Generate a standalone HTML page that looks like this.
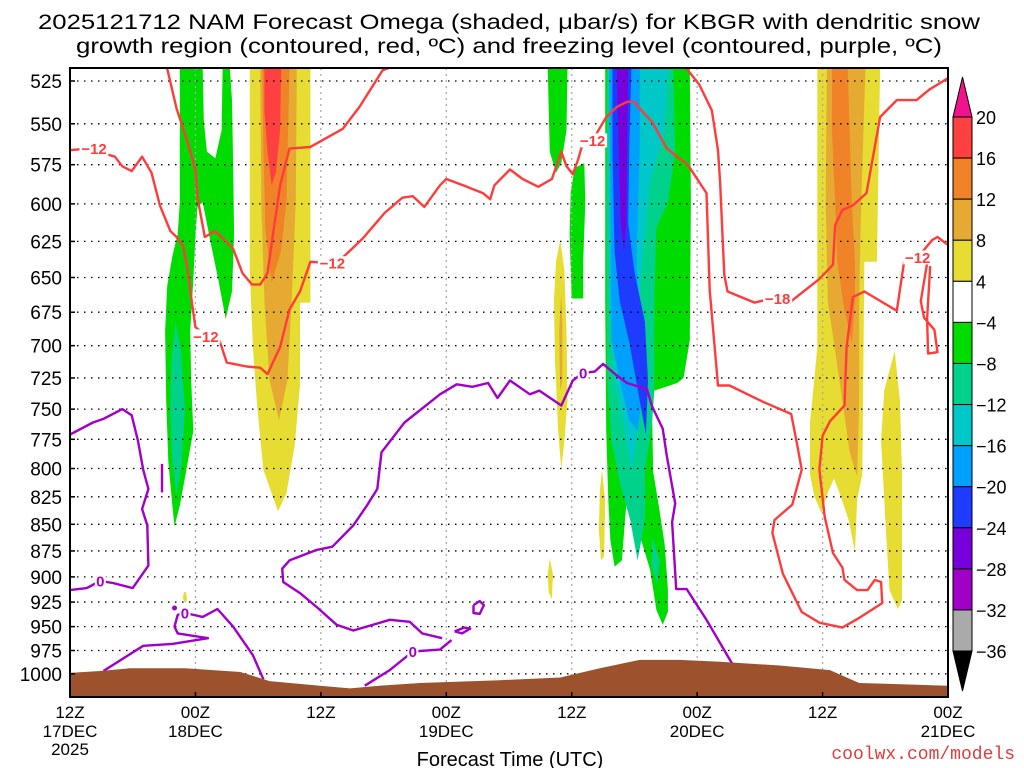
<!DOCTYPE html>
<html><head><meta charset="utf-8">
<style>
html,body{margin:0;padding:0;background:#fff;}
svg{display:block;font-family:"Liberation Sans",sans-serif;}
</style></head>
<body>
<svg id="chart" width="1024" height="768" viewBox="0 0 1024 768" xmlns="http://www.w3.org/2000/svg">
  <rect x="0" y="0" width="1024" height="768" fill="#fff"/>
  <text x="509" y="29" text-anchor="middle" font-size="21" textLength="942" lengthAdjust="spacingAndGlyphs">2025121712 NAM Forecast Omega (shaded, μbar/s) for KBGR with dendritic snow</text>
  <text x="509" y="53" text-anchor="middle" font-size="21" textLength="866" lengthAdjust="spacingAndGlyphs">growth region (contoured, red, ºC) and freezing level (contoured, purple, ºC)</text>
  <defs><clipPath id="plotclip"><rect x="70" y="68" width="878" height="629"/></clipPath></defs>
  <g id="shading" clip-path="url(#plotclip)"></g>
  <g id="grid"></g>
  <g id="contours" clip-path="url(#plotclip)"></g>
  <g id="terrain" clip-path="url(#plotclip)"></g>
  <g id="clabels"></g>
  <rect x="70" y="68" width="878" height="629" fill="none" stroke="#000" stroke-width="2"/>
  <g id="axes"></g>
  <g id="colorbar"></g>
  <text x="510" y="766" text-anchor="middle" font-size="20">Forecast Time (UTC)</text>
  <text x="1015" y="759" text-anchor="end" font-size="18" fill="#e03c3c" font-family="Liberation Mono, monospace">coolwx.com/models</text>
</svg>
<script>
// ---- axis data ----
const pressureTicks = [525,550,575,600,625,650,675,700,725,750,775,800,825,850,875,900,925,950,975,1000];
const timeTickHours = [0,12,24,36,48,60,72,84];
const timeTickLabels = ["12Z","00Z","12Z","00Z","12Z","00Z","12Z","00Z"];
const dateTickLabels = ["17DEC","18DEC","","19DEC","","20DEC","","21DEC"];
// ---- colorbar data ----
const cbarLevels = [20,16,12,8,4,-4,-8,-12,-16,-20,-24,-28,-32,-36];
const cbarColors = ["#ff4040","#f08228","#e6aa32","#e6dc32","#ffffff","#00dc00","#00d28c","#00c8c8","#00a0ff","#1e3cff","#7800dc","#a000c8","#aaaaaa"];
const cbarOverColor = "#f0148c", cbarUnderColor = "#000000";
const levelColor = {"16":"#ff4040","12":"#f08228","8":"#e6aa32","4":"#e6dc32","-4":"#00dc00","-8":"#00d28c","-12":"#00c8c8","-16":"#00a0ff","-20":"#1e3cff","-24":"#7800dc"};
// ---- shaded omega regions [hour, hPa] ----
const greenA = [[10.5,518],[10.5,599],[10.3,620],[9.8,635],[9.3,656],[9.1,689],[9.2,743],[9.4,794],[9.8,833],[10.0,852],[10.5,833],[11.1,803],[11.8,768],[11.6,727],[11.5,689],[11.8,652],[12.0,622],[12.2,602],[12.7,599],[13.4,624],[14.2,652],[14.9,680],[15.5,660],[15.7,620],[15.6,574],[15.5,536],[15.3,518],[14.6,518],[14.5,554],[13.9,571],[13.1,567],[12.8,548],[12.7,518]];
const tealA = [[10.1,682],[10.6,704],[11.0,751],[10.7,794],[10.2,824],[9.8,794],[9.6,751],[9.7,712]];
const yellowB = [[17.2,518],[23.0,518],[23.0,668],[22.0,668],[22.0,731],[21.5,780],[20.7,822],[19.9,838],[18.5,801],[17.9,747],[17.5,701],[17.2,646]];
const goldB = [[18.2,518],[21.7,518],[21.6,599],[21.2,667],[20.8,727],[20.0,759],[19.1,727],[18.6,667],[18.3,599]];
const orangeB = [[18.4,518],[21.0,518],[20.7,599],[20.2,631],[19.3,654],[18.7,618],[18.5,567]];
const redB = [[18.6,518],[20.2,518],[20.1,554],[19.7,580],[19.3,588],[18.9,567],[18.6,542]];
const yellowDot = [[10.9,915],[11.1,915],[11.2,923],[11.0,926],[10.8,921]];
const greenC = [[45.7,518],[47.6,518],[47.5,554],[47.0,574],[46.5,580],[45.9,567]];
const greenD = [[48.3,577],[49.2,574],[49.3,599],[49.1,639],[49.1,665],[48.0,665],[47.8,620],[47.9,592]];
const yellowE = [[46.9,624],[47.3,645],[47.5,689],[47.6,743],[47.3,776],[47.0,801],[46.7,767],[46.4,711],[46.3,667],[46.5,639]];
const goldE = [[47.0,660],[47.1,682],[47.1,727],[46.9,735],[46.8,689]];
const yellowF = [[50.9,801],[51.2,828],[51.1,880],[50.8,884],[50.6,855],[50.7,819]];
const yellowG = [[45.9,882],[46.2,898],[46.1,922],[45.8,915],[45.7,898]];
const greenH = [[51.2,518],[59.3,518],[59.4,599],[59.3,696],[58.7,725],[58.1,729],[55.9,735],[55.7,759],[55.8,803],[56.4,837],[56.9,869],[57.2,912],[57.2,935],[56.7,948],[56.1,933],[55.5,893],[54.5,860],[54.0,837],[53.4,812],[53.1,846],[52.8,884],[52.1,890],[51.7,865],[51.5,828],[51.3,768],[51.2,667]];
const tealH = [[51.4,518],[57.7,518],[57.9,567],[57.2,599],[56.1,616],[55.9,667],[55.9,727],[55.7,759],[55.0,803],[55.0,846],[54.3,884],[53.6,846],[52.6,812],[51.8,776],[51.4,727],[51.3,599]];
const tealH2 = [[55.7,862],[56.4,884],[56.2,907],[55.6,888]];
const cyanH = [[51.5,518],[57.2,518],[56.9,554],[55.5,586],[55.0,620],[54.5,660],[54.5,727],[54.3,768],[53.7,803],[53.1,768],[52.1,727],[51.6,667]];
const lightBlueH = [[51.6,518],[54.5,518],[54.5,567],[54.2,639],[54.5,689],[54.7,743],[54.3,768],[53.5,759],[52.6,727],[51.8,696],[51.7,599]];
const blueH = [[51.9,518],[53.7,518],[53.5,567],[53.4,613],[54.0,646],[55.0,682],[55.3,727],[55.1,771],[54.5,743],[53.5,697],[52.6,667],[52.1,632],[51.9,567]];
const purpleH = [[52.3,518],[53.4,518],[53.3,567],[53.2,613],[53.0,632],[52.7,613],[52.5,567]];
const yellowI = [[71.5,518],[77.5,518],[77.2,639],[76.0,639],[75.8,805],[75.3,828],[75.1,876],[74.5,846],[73.6,821],[73.1,809],[72.5,821],[71.9,840],[71.2,824],[70.8,805],[70.8,761],[71.2,727],[71.5,701]];
const yellowJ = [[78.9,704],[79.4,743],[79.6,803],[79.6,923],[79.2,932],[78.4,913],[78.0,846],[77.6,776],[77.9,735]];
const goldI = [[72.4,518],[76.1,518],[75.7,599],[75.5,667],[75.5,743],[75.3,807],[74.6,786],[73.9,743],[73.2,704],[72.5,667],[72.3,599]];
const orangeI = [[72.9,518],[74.4,518],[74.8,599],[75.1,639],[75.1,667],[74.8,697],[74.1,674],[73.4,639],[73.2,599],[72.9,554]];
const shadeOrder = [
  ["-4",greenA],["-8",tealA],["4",yellowB],["8",goldB],["12",orangeB],["16",redB],["4",yellowDot],
  ["-4",greenC],["-4",greenD],["4",yellowE],["8",goldE],["4",yellowF],["4",yellowG],
  ["-4",greenH],["-8",tealH],["-8",tealH2],["-12",cyanH],["-16",lightBlueH],["-20",blueH],["-24",purpleH],
  ["4",yellowI],["4",yellowJ],["8",goldI],["12",orangeI]
];
// ---- red dendritic-zone contours ----
const redMain = [[0,566],[1.7,565],[4.3,570],[5.0,576],[5.9,579],[6.9,570],[7.8,580],[8.6,601],[9.6,618],[10.2,622],[10.8,628],[11.2,642],[11.7,670],[12.0,686],[13.1,693],[14.3,696],[15.0,713],[16.9,716],[18.2,717],[18.9,722],[20.1,701],[21.0,673],[22.0,660],[23.0,639],[25.1,640],[26.1,636],[28.0,623],[30.1,606],[31.8,596],[32.8,595],[33.9,602],[35.4,588],[36.0,584],[37.6,588],[39.5,593],[40.2,597],[40.6,588],[42.1,578],[43.3,584],[44.8,589],[46.1,584],[47.0,567],[47.5,576],[48.1,581],[48.6,572],[49.0,563],[50.0,560],[51.3,546],[52.3,540],[53.3,537],[54.0,537],[54.5,541],[55.7,549],[57.1,565],[59.1,575],[60.9,593],[61.2,659],[62.0,731],[63.1,731],[66.3,744],[69.0,754],[69.6,781],[70.0,801],[69.1,832],[67.4,846],[67.2,858],[68.2,897],[70.0,935],[71.7,946],[73.9,951],[75.5,941],[77.7,926],[77.6,905],[77.0,903],[76.3,913],[75.3,913],[74.1,903],[73.9,891],[73.0,877],[72.2,843],[71.7,801],[72.0,772],[72.7,760],[74.1,747],[74.3,701],[74.9,664],[76.0,660],[79.1,674],[79.8,639],[81.1,636],[82.5,624],[83.0,622],[84.1,628]];
const redLoop = [[82.0,640],[81.4,667],[81.7,679],[82.7,688],[83.0,705],[82.1,706],[82.0,680],[82.3,642]];
const redUpperLeft = [[9.3,518],[10.2,541],[11.2,560],[12.0,578],[12.2,596],[12.9,622],[13.9,618],[15.6,630],[16.5,647],[17.4,655],[18.2,655],[18.9,647],[19.4,621],[20.1,588],[21.0,565],[23.0,564],[26.1,553],[27.7,540],[29.9,519],[32.5,513]];
const redRight = [[58.3,513],[60.2,527],[61.4,542],[62.0,566],[62.2,586],[62.6,648],[62.9,660],[65.5,668],[67.2,665],[69.0,667],[71.7,651],[73.0,641],[73.2,614],[73.9,604],[74.9,601],[76.2,593],[77.5,546],[79.1,536],[81.0,536],[82.2,530],[84.1,523]];
const redLines = [redMain, redLoop, redUpperLeft, redRight];
const redLabelPos = [[2.3,565],[13.0,693],[25.1,640],[50.0,560],[67.7,665],[81.1,636]];
const redLabelText = ["−12","−12","−12","−12","−18","−12"];
// ---- purple freezing-level contours ----
const purpleLeft = [[0,771],[2.2,761],[3.2,758],[5.0,750],[5.9,755],[6.5,776],[7.0,801],[7.5,818],[6.9,836],[7.4,851],[7.5,889],[6.0,911],[4.1,906],[2.9,904],[1.6,911],[0,913]];
const purpleBit = [[8.8,796],[8.8,821]];
const purpleBottom = [[28.2,1013],[30.6,996],[32.8,976],[35.4,974],[36.5,964]];
const purpleLong = [[35.6,962],[33.7,957],[32.5,945],[30.6,943],[27.1,954],[25.5,948],[23.6,930],[22.0,916],[20.4,905],[20.3,892],[21.0,884],[23.6,874],[25.1,871],[27.1,851],[28.4,833],[29.4,818],[29.8,786],[32.0,761],[35.4,738],[37.0,730],[38.5,732],[40.0,729],[40.9,741],[42.1,727],[44.0,738],[44.9,735],[47.0,747],[48.1,727],[49.1,721],[50.2,720],[51.0,714],[52.3,723],[53.3,729],[55.2,734],[55.7,748],[56.7,766],[57.1,789],[57.9,831],[57.6,848],[58.0,912],[59.0,912],[60.9,943],[63.4,990],[64.1,1001]];
const purpleLow = [[3.2,997],[7.0,970],[9.8,968],[13.2,962],[10.3,957],[10.0,950],[10.3,938],[11.0,936],[12.7,940],[14.1,932],[15.6,950],[17.5,980],[18.5,1006]];
const purpleRing1 = [[38.6,928],[39.2,924],[39.6,928],[39.2,937],[38.6,936],[38.6,928]];
const purpleRing2 = [[36.8,955],[37.7,951],[38.3,952],[37.5,957],[36.8,955]];
const purpleLines = [purpleLeft, purpleBit, purpleBottom, purpleLong, purpleLow, purpleRing1, purpleRing2];
const purpleLabelPos = [[2.9,904],[49.1,721],[11.0,936],[32.8,976]];
const purpleLabelText = ["0","0","0","0"];
// ---- terrain (surface pressure) ----
const terrainHours = [0,2.9,5.7,11,16.3,19.1,23.9,26.8,29.6,33.5,41.1,46.9,50.7,54.5,58.3,62.2,67.9,72.7,75.5,84];
const terrainP = [999,997,994,994,998,1008,1013,1016,1013,1010,1007,1004,994,985,985,987,991,996,1010,1013];

// ---- scales ----
const X0=70, X1=948, Y0=68, Y1=697;
function xs(h){ return X0 + h*(X1-X0)/84; }
function ys(p){ return 81 + 920*Math.log(p/525); }
const NS="http://www.w3.org/2000/svg";
function mk(tag, parent, attrs){ const e=document.createElementNS(NS,tag); for(const k in attrs) e.setAttribute(k,attrs[k]); parent.appendChild(e); return e; }
function ptsStr(arr){ return arr.map(d=>xs(d[0]).toFixed(1)+","+ys(d[1]).toFixed(1)).join(" "); }

// shading
const gS=document.getElementById("shading");
shadeOrder.forEach(s=>{
  const e=mk("polygon",gS,{points:ptsStr(s[1]),fill:levelColor[s[0]]});
  
  
});

// grid
const gG=document.getElementById("grid");
pressureTicks.forEach(p=>{
  const e=mk("line",gG,{x1:X0,x2:X1,y1:ys(p),y2:ys(p),stroke:"#000","stroke-width":1.3,"stroke-dasharray":"1.5,5.5"});
  
  
});
timeTickHours.forEach(h=>{
  const e=mk("line",gG,{x1:xs(h),x2:xs(h),y1:Y0,y2:Y1,stroke:"#aaa","stroke-width":1.3,"stroke-dasharray":"2,4"});
  
  
});

// contours
const gC=document.getElementById("contours");
redLines.forEach(l=>{
  const e=mk("polyline",gC,{points:ptsStr(l),fill:"none",stroke:"#ff3c3c","stroke-width":2.4,"stroke-linejoin":"round"});
  
  
});
purpleLines.forEach(l=>{
  const e=mk("polyline",gC,{points:ptsStr(l),fill:"none",stroke:"#a000c8","stroke-width":2.4,"stroke-linejoin":"round"});
  
  
});
const dot=mk("circle",gC,{cx:xs(10),cy:ys(931),r:2.5,fill:"#a000c8"});



// terrain
const gT=document.getElementById("terrain");
let tp=terrainHours.map((h,i)=>xs(h).toFixed(1)+","+ys(terrainP[i]).toFixed(1)).join(" ");
tp += " "+xs(84)+","+Y1+" "+xs(0)+","+Y1;
const terr=mk("polygon",gT,{points:tp,fill:"#9c522c"});



// contour labels
const gL=document.getElementById("clabels");
function addLabel(pos,txt,color){
  const x=xs(pos[0]), y=ys(pos[1]);
  const w=txt.length*9+2;
  const r=mk("rect",gL,{x:x-w/2,y:y-7,width:w,height:14,fill:"#fff"});
  
  
  const t=mk("text",gL,{x:x,y:y+5.5,"text-anchor":"middle","font-size":15,"font-weight":"bold",fill:color});
  t.textContent=txt;
  
  
}
redLabelPos.forEach((p,i)=>addLabel(p,redLabelText[i],"#ff3c3c"));
purpleLabelPos.forEach((p,i)=>addLabel(p,purpleLabelText[i],"#a000c8"));

// axes labels
const gA=document.getElementById("axes");
pressureTicks.forEach(p=>{
  const t=mk("text",gA,{x:62,y:ys(p)+7,"text-anchor":"end","font-size":19});
  t.textContent=String(p);
  
  
  const tk=mk("line",gA,{x1:X0,x2:X0+5,y1:ys(p),y2:ys(p),stroke:"#000","stroke-width":1.5});
  
  
});
timeTickHours.forEach((h,i)=>{
  const tk=mk("line",gA,{x1:xs(h),x2:xs(h),y1:Y1,y2:Y1-5,stroke:"#000","stroke-width":1.5});
  
  
  const t=mk("text",gA,{x:xs(h),y:718,"text-anchor":"middle","font-size":17});
  t.textContent=timeTickLabels[i];
  
  
  if(dateTickLabels[i]){
    const d=mk("text",gA,{x:xs(h),y:737,"text-anchor":"middle","font-size":17});
    d.textContent=dateTickLabels[i];
    
    
  }
});
const yr=mk("text",gA,{x:xs(0),y:755,"text-anchor":"middle","font-size":17});
yr.textContent="2025";



// colorbar
const gB=document.getElementById("colorbar");
const CBX=953, CBW=19, CBTOP=117, CBSTEP=41.08;
function cby(i){ return CBTOP + i*CBSTEP; }
cbarColors.forEach((c,i)=>{
  const r=mk("rect",gB,{x:CBX,y:cby(i),width:CBW,height:CBSTEP,fill:c,stroke:"#000","stroke-width":1});
  
  
});
const tri1=mk("polygon",gB,{points:`${CBX},${CBTOP} ${CBX+CBW},${CBTOP} ${CBX+CBW/2},${CBTOP-40}`,fill:cbarOverColor,stroke:"#000","stroke-width":1});


const yb=cby(cbarColors.length);
const tri2=mk("polygon",gB,{points:`${CBX},${yb} ${CBX+CBW},${yb} ${CBX+CBW/2},${yb+40}`,fill:cbarUnderColor,stroke:"#000","stroke-width":1});


cbarLevels.forEach((v,i)=>{
  const t=mk("text",gB,{x:976,y:cby(i)+7,"font-size":18});
  t.textContent=(v<0?"−":"")+Math.abs(v);
  
  
});
</script>
</body></html>
